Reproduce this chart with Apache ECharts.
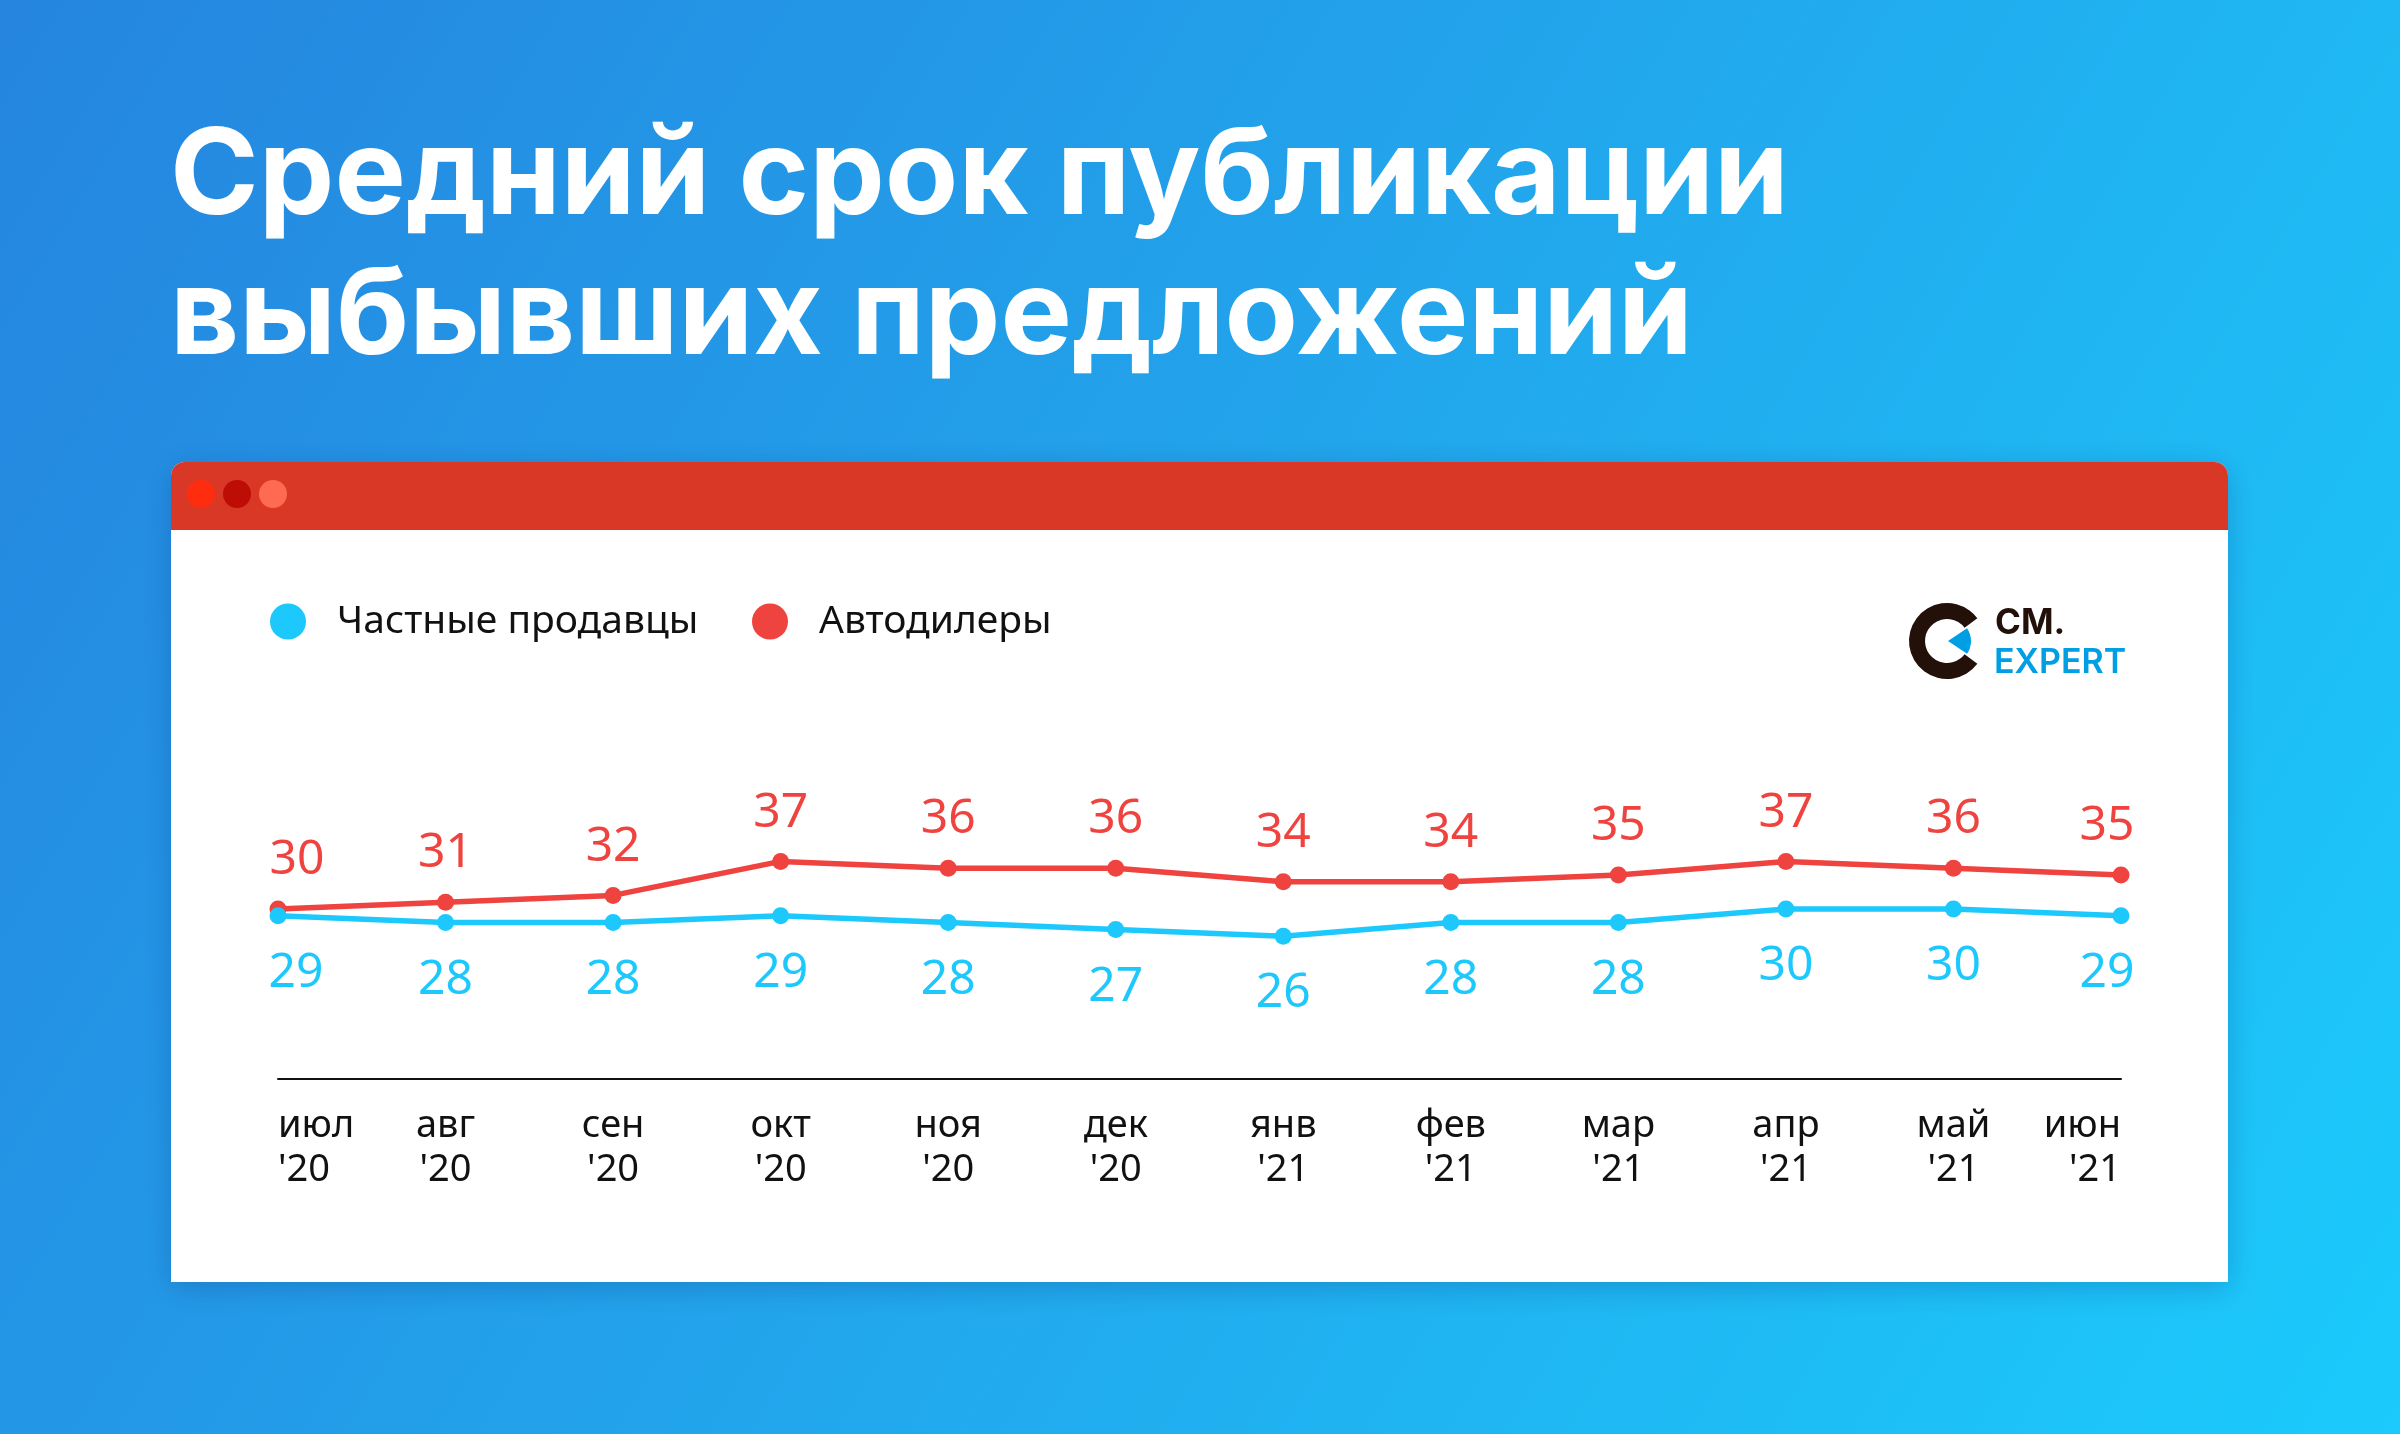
<!DOCTYPE html>
<html>
<head>
<meta charset="utf-8">
<script src="https://cdn.jsdelivr.net/npm/echarts@6/dist/echarts.min.js"></script>
<style>
  html, body { margin: 0; padding: 0; }
  #chart { width: 2400px; height: 1434px; }
</style>
</head>
<body>
<div id="chart"></div>
<script>
// данные графика
const months = ['июл', 'авг', 'сен', 'окт', 'ноя', 'дек', 'янв', 'фев', 'мар', 'апр', 'май', 'июн'];
const years = ["'20", "'20", "'20", "'20", "'20", "'20", "'21", "'21", "'21", "'21", "'21", "'21"];
const privateSellers = [29, 28, 28, 29, 28, 27, 26, 28, 28, 30, 30, 29];
const dealers = [30, 31, 32, 37, 36, 36, 34, 34, 35, 37, 36, 35];

const RED = '#EF4340';
const BLUE = '#1CC8FC';
const labelFont = '"Noto Sans", sans-serif';

// первая и последняя подписи сдвинуты внутрь
function withEdgeLabels(values, shiftFirst, shiftLast) {
  return values.map((v, i) => {
    if (i === 0) return { value: v, label: { offset: [shiftFirst, 0] } };
    if (i === values.length - 1) return { value: v, label: { offset: [shiftLast, 0] } };
    return v;
  });
}

const chart = echarts.init(document.getElementById('chart'));

const option = {
  animation: false,
  title: {
    text: 'Средний срок публикации\nвыбывших предложений',
    left: 170,
    top: 108,
    padding: 0,
    textStyle: {
      color: '#fff',
      fontFamily: 'Inter, sans-serif',
      fontWeight: 700,
      fontSize: 120,
      lineHeight: 140
    }
  },
  graphic: [
    {
      type: 'rect', z: -10, silent: true,
      shape: { x: 0, y: 0, width: 2400, height: 1434 },
      style: {
        fill: {
          type: 'linear', x: 0, y: 0, x2: 1, y2: 1,
          colorStops: [
            { offset: 0, color: '#2585DF' },
            { offset: 0.5, color: '#22A6EC' },
            { offset: 1, color: '#1BCBFC' }
          ]
        }
      }
    },
    {
      type: 'rect', z: -9, silent: true,
      shape: { x: 171, y: 462, width: 2057, height: 820, r: [14, 14, 0, 0] },
      style: {
        fill: '#fff',
        shadowBlur: 30,
        shadowOffsetY: 6,
        shadowColor: 'rgba(0, 40, 110, 0.25)'
      }
    },
    {
      type: 'rect', z: -8, silent: true,
      shape: { x: 171, y: 462, width: 2057, height: 68, r: [14, 14, 0, 0] },
      style: { fill: '#D93827' }
    },
    { type: 'circle', z: -7, shape: { cx: 201, cy: 494, r: 14 }, style: { fill: '#FF2D10' } },
    { type: 'circle', z: -7, shape: { cx: 237, cy: 494, r: 14 }, style: { fill: '#BD0D05' } },
    { type: 'circle', z: -7, shape: { cx: 273, cy: 494, r: 14 }, style: { fill: '#FF6A52' } },
    // логотип
    {
      type: 'sector', z: -7,
      shape: { cx: 1947, cy: 641, r: 38, r0: 22, startAngle: 37 * Math.PI / 180, endAngle: 323 * Math.PI / 180, clockwise: true },
      style: { fill: '#231008' }
    },
    {
      type: 'sector', z: -7,
      shape: { cx: 1948, cy: 641, r: 23, r0: 0, startAngle: -34 * Math.PI / 180, endAngle: 34 * Math.PI / 180, clockwise: true },
      style: { fill: '#009FE3' }
    },
    {
      type: 'text', z: -7,
      style: {
        text: 'CM.', x: 1995, y: 623,
        fontFamily: 'Inter, sans-serif', fontWeight: 700, fontSize: 35,
        fill: '#231008', align: 'left', verticalAlign: 'middle',
        textAlign: 'left', textVerticalAlign: 'middle'
      }
    },
    {
      type: 'text', z: -7,
      style: {
        text: 'EXPERT', x: 1994, y: 663,
        fontFamily: 'Inter, sans-serif', fontWeight: 600, fontSize: 34,
        fill: '#009FE3', align: 'left', verticalAlign: 'middle',
        textAlign: 'left', textVerticalAlign: 'middle'
      }
    }
  ],
  legend: [
    {
      data: ['Частные продавцы'],
      left: 270, top: 602,
      icon: 'circle', itemWidth: 36, itemHeight: 36,
      padding: 0,
      textStyle: { fontFamily: labelFont, fontSize: 39, color: '#111', padding: [0, 0, 0, 26] }
    },
    {
      data: ['Автодилеры'],
      left: 752, top: 602,
      icon: 'circle', itemWidth: 36, itemHeight: 36,
      padding: 0,
      textStyle: { fontFamily: labelFont, fontSize: 39, color: '#111', padding: [0, 0, 0, 26] }
    }
  ],
  grid: {
    left: 278,
    right: 279,
    top: 841,
    bottom: 355,
    containLabel: false,
    outerBoundsMode: 'none'
  },
  xAxis: {
    type: 'category',
    boundaryGap: false,
    data: months,
    axisTick: { show: false },
    axisLine: { onZero: false, lineStyle: { color: '#111', width: 2 } },
    axisLabel: {
      interval: 0,
      margin: 25,
      color: '#111',
      fontFamily: labelFont,
      fontSize: 38,
      lineHeight: 44,
      alignMinLabel: 'left',
      alignMaxLabel: 'right',
      formatter: (m, i) => m + '\n' + years[i]
    },
    splitLine: { show: false }
  },
  yAxis: {
    type: 'value',
    min: 5,
    max: 40,
    show: false
  },
  series: [
    {
      name: 'Автодилеры',
      type: 'line',
      z: 2,
      data: withEdgeLabels(dealers, 19, -14),
      color: RED,
      symbol: 'circle',
      symbolSize: 17,
      lineStyle: { width: 5.5, color: RED },
      itemStyle: { color: RED },
      label: {
        show: true,
        position: 'top',
        distance: 16,
        color: RED,
        fontFamily: labelFont,
        fontSize: 48,
        lineHeight: 48
      }
    },
    {
      name: 'Частные продавцы',
      type: 'line',
      z: 3,
      data: withEdgeLabels(privateSellers, 18, -14),
      color: BLUE,
      symbol: 'circle',
      symbolSize: 17,
      lineStyle: { width: 5.5, color: BLUE },
      itemStyle: { color: BLUE },
      label: {
        show: true,
        position: 'bottom',
        distance: 25,
        color: BLUE,
        fontFamily: labelFont,
        fontSize: 48,
        lineHeight: 48
      }
    }
  ]
};

chart.setOption(option);
</script>
</body>
</html>
